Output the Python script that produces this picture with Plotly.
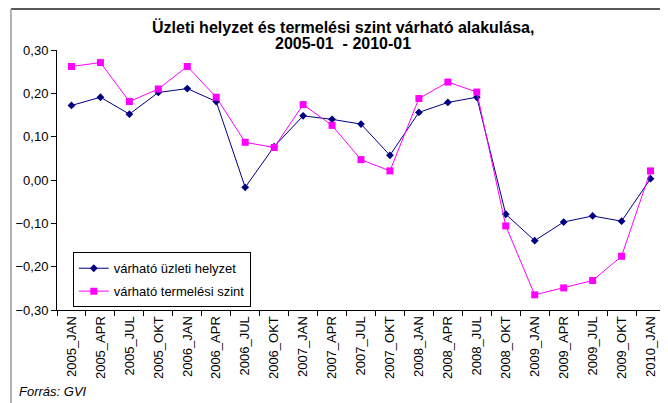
import plotly.graph_objects as go

categories = ["2005_JAN", "2005_APR", "2005_JUL", "2005_OKT",
              "2006_JAN", "2006_APR", "2006_JUL", "2006_OKT",
              "2007_JAN", "2007_APR", "2007_JUL", "2007_OKT",
              "2008_JAN", "2008_APR", "2008_JUL", "2008_OKT",
              "2009_JAN", "2009_APR", "2009_JUL", "2009_OKT",
              "2010_JAN"]
uzleti_helyzet = [0.172, 0.191, 0.152, 0.202, 0.211, 0.181, -0.017, 0.077,
                  0.148, 0.140, 0.129, 0.057, 0.156, 0.179, 0.191, -0.079,
                  -0.140, -0.097, -0.083, -0.095, 0.003]
termelesi_szint = [0.262, 0.271, 0.181, 0.210, 0.262, 0.191, 0.087, 0.075,
                   0.174, 0.126, 0.047, 0.021, 0.188, 0.226, 0.203, -0.106,
                   -0.265, -0.249, -0.232, -0.176, 0.021]
y_ticks = [-0.30, -0.20, -0.10, 0.00, 0.10, 0.20, 0.30]
title_lines = ["Üzleti helyzet és termelési szint várható alakulása,",
               "2005-01  - 2010-01"]
source_text = "Forrás: GVI"

FONT = "Liberation Sans, Arial, sans-serif"

fig = go.Figure()
fig.add_trace(go.Scatter(
    x=categories, y=uzleti_helyzet, mode="lines+markers",
    name="várható üzleti helyzet", legendgroup="a",
    line=dict(color="#000080", width=1),
    marker=dict(symbol="diamond", size=6, color="#000080"),
))
fig.add_trace(go.Scatter(
    x=categories, y=termelesi_szint, mode="lines+markers",
    name="várható termelési szint", legendgroup="b",
    line=dict(color="#FF00FF", width=1),
    marker=dict(symbol="square", size=7, color="#FF00FF"),
))

# the page body adds an 8px margin, so the figure is 8px smaller each way
fig.update_layout(
    width=660, height=395,
    margin=dict(l=49, r=3, t=42, b=93),
    paper_bgcolor="white", plot_bgcolor="white",
    separators=", ",
    font=dict(family=FONT, size=13, color="black"),
    showlegend=True,
    legend=dict(
        x=0.026, y=0.222, xanchor="left", yanchor="top",
        bordercolor="black", borderwidth=1, bgcolor="white",
        font=dict(family=FONT, size=13, color="black"),
        traceorder="grouped", tracegroupgap=3, itemwidth=30,
    ),
    xaxis=dict(
        type="category", tickangle=-90, showgrid=False,
        showline=True, linecolor="black", linewidth=1,
        ticks="outside", ticklen=5, tickcolor="black", tickson="boundaries",
        tickfont=dict(family=FONT, size=13),
        range=[-0.5, len(categories) - 0.5],
    ),
    yaxis=dict(
        range=[-0.30, 0.30], tickvals=y_ticks, tickformat=".2f",
        showgrid=False, zeroline=False,
        showline=True, linecolor="black", linewidth=1,
        ticks="outside", ticklen=5, tickcolor="black",
        tickfont=dict(family=FONT, size=13),
    ),
    shapes=[
        dict(type="line", xref="paper", yref="paper", x0=-0.0757, x1=1.0016,
             y0=1.158, y1=1.158, line=dict(color="#222222", width=1.5)),
        dict(type="line", xref="paper", yref="paper", x0=-0.0757, x1=-0.0757,
             y0=1.158, y1=-0.40, line=dict(color="#999999", width=1.5)),
        dict(type="line", xref="paper", yref="paper", x0=1.0016, x1=1.0016,
             y0=1.158, y1=-0.40, line=dict(color="#999999", width=2.5)),
    ],
    annotations=[
        dict(text="<b>" + title_lines[0] + "</b>", xref="paper", yref="paper",
             x=0.470, y=1.0885, xanchor="center", yanchor="middle",
             showarrow=False, font=dict(family=FONT, size=16, color="black")),
        dict(text="<b>" + title_lines[1] + "</b>", xref="paper", yref="paper",
             x=0.470, y=1.0231, xanchor="center", yanchor="middle",
             showarrow=False, font=dict(family=FONT, size=16, color="black")),
        dict(text="<i>" + source_text + "</i>", xref="paper", yref="paper",
             x=-0.0658, y=-0.315, xanchor="left", yanchor="middle",
             showarrow=False, font=dict(family=FONT, size=13, color="black")),
    ],
)

fig.write_html("out.html")
